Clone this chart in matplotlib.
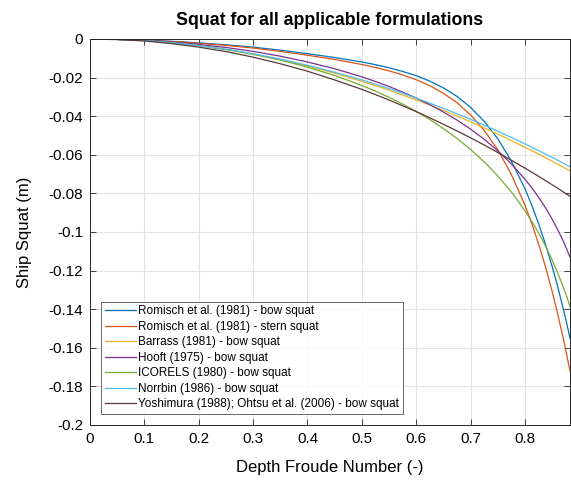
import numpy as np
import matplotlib
matplotlib.use("Agg")
import matplotlib.pyplot as plt

plt.rcParams['font.family'] = ['Liberation Sans', 'DejaVu Sans']

# Depth Froude number samples
fnh = [0, 0.05, 0.1, 0.15, 0.2, 0.25, 0.3, 0.35, 0.4, 0.45, 0.5, 0.525, 0.55, 0.575,
       0.6, 0.625, 0.65, 0.675, 0.7, 0.725, 0.75, 0.775, 0.8, 0.8125, 0.825, 0.8375,
       0.85, 0.86, 0.87, 0.8775, 0.883]

# squat magnitudes (m)
romisch_bow = [0.0000, 0.0002, 0.0006, 0.0012, 0.0020, 0.0030, 0.0042, 0.0058, 0.0076, 0.0096,
               0.0119, 0.0133, 0.0149, 0.0168, 0.0190, 0.0218, 0.0253, 0.0297, 0.0354, 0.0426,
               0.0516, 0.0632, 0.0775, 0.0860, 0.0955, 0.1060, 0.1177, 0.1279, 0.1391, 0.1480,
               0.1550]
romisch_stern = [0.0000, 0.0002, 0.0007, 0.0013, 0.0022, 0.0033, 0.0047, 0.0064, 0.0084, 0.0106,
                 0.0132, 0.0148, 0.0165, 0.0186, 0.0211, 0.0242, 0.0281, 0.0330, 0.0393, 0.0473,
                 0.0573, 0.0701, 0.0860, 0.0955, 0.1060, 0.1176, 0.1306, 0.1420, 0.1544, 0.1643,
                 0.1720]
barrass = [0.0000, 0.0002, 0.0009, 0.0020, 0.0035, 0.0055, 0.0079, 0.0107, 0.0140, 0.0177,
           0.0219, 0.0241, 0.0265, 0.0290, 0.0315, 0.0342, 0.0370, 0.0399, 0.0429, 0.0460,
           0.0493, 0.0526, 0.0561, 0.0578, 0.0596, 0.0614, 0.0633, 0.0648, 0.0663, 0.0675,
           0.0683]
hooft = [0.0000, 0.0002, 0.0007, 0.0015, 0.0028, 0.0044, 0.0064, 0.0089, 0.0119, 0.0154,
         0.0196, 0.0220, 0.0246, 0.0275, 0.0306, 0.0340, 0.0378, 0.0420, 0.0467, 0.0519,
         0.0579, 0.0647, 0.0726, 0.0770, 0.0819, 0.0873, 0.0933, 0.0986, 0.1044, 0.1092,
         0.1130]
icorels = [0.0000, 0.0002, 0.0008, 0.0019, 0.0034, 0.0054, 0.0079, 0.0109, 0.0146, 0.0189,
           0.0241, 0.0270, 0.0302, 0.0337, 0.0375, 0.0417, 0.0464, 0.0515, 0.0572, 0.0636,
           0.0709, 0.0792, 0.0889, 0.0944, 0.1004, 0.1070, 0.1144, 0.1209, 0.1280, 0.1339,
           0.1385]
norrbin = [0.0000, 0.0002, 0.0008, 0.0019, 0.0034, 0.0053, 0.0076, 0.0104, 0.0136, 0.0172,
           0.0212, 0.0234, 0.0257, 0.0281, 0.0306, 0.0332, 0.0359, 0.0387, 0.0416, 0.0446,
           0.0478, 0.0510, 0.0543, 0.0561, 0.0578, 0.0596, 0.0613, 0.0628, 0.0643, 0.0654,
           0.0662]
yoshimura = [0.0000, 0.0003, 0.0010, 0.0024, 0.0042, 0.0065, 0.0094, 0.0128, 0.0167, 0.0212,
             0.0261, 0.0288, 0.0316, 0.0346, 0.0376, 0.0408, 0.0442, 0.0476, 0.0512, 0.0549,
             0.0588, 0.0628, 0.0669, 0.0690, 0.0711, 0.0733, 0.0755, 0.0773, 0.0791, 0.0805,
             0.0815]

labels = ["Romisch et al. (1981) - bow squat",
          "Romisch et al. (1981) - stern squat",
          "Barrass (1981) - bow squat",
          "Hooft (1975) - bow squat",
          "ICORELS (1980) - bow squat",
          "Norrbin (1986) - bow squat",
          "Yoshimura (1988); Ohtsu et al. (2006) - bow squat"]
series = [romisch_bow, romisch_stern, barrass, hooft, icorels, norrbin, yoshimura]
colors = ['#0072BD', '#D95319', '#EDB120', '#7E2F8E', '#77AC30', '#4DBEEE', '#5A3A3A']

xticks = [0, 0.1, 0.2, 0.3, 0.4, 0.5, 0.6, 0.7, 0.8]
xticklabels = ['0', '0.1', '0.2', '0.3', '0.4', '0.5', '0.6', '0.7', '0.8']
yticks = [0, -0.02, -0.04, -0.06, -0.08, -0.1, -0.12, -0.14, -0.16, -0.18, -0.2]
yticklabels = ['0', '-0.02', '-0.04', '-0.06', '-0.08', '-0.1', '-0.12', '-0.14',
               '-0.16', '-0.18', '-0.2']

fig = plt.figure(figsize=(5.71, 4.8), dpi=100)
ax = fig.add_axes([90/571, 55/480, 480/571, 386/480])

x = np.array(fnh)
for s, c, lab in zip(series, colors, labels):
    ax.plot(x, -np.array(s), color=c, lw=0.9, label=lab)

ax.set_xlim(0, 0.883)
ax.set_ylim(-0.2, 0)
ax.set_xticks(xticks)
ax.set_xticklabels(xticklabels)
ax.set_yticks(yticks)
ax.set_yticklabels(yticklabels)
ax.grid(True, color='#E3E3E3', lw=0.8)
ax.set_axisbelow(True)
ax.tick_params(direction='in', length=4, width=0.6, colors='#262626', labelsize=11,
               top=True, right=True, labelcolor='black', pad=5)
for sp in ax.spines.values():
    sp.set_color('#262626')
    sp.set_linewidth(0.7)

ax.set_title("Squat for all applicable formulations", fontsize=12.8, fontweight='bold', pad=10)
ax.set_xlabel("Depth Froude Number (-)", fontsize=12, labelpad=10)
ax.set_ylabel("Ship Squat (m)", fontsize=12, labelpad=12)

leg = ax.legend(loc='lower left', bbox_to_anchor=(11/480, 11/386), fontsize=8.5,
                frameon=True, fancybox=False, handlelength=2.7, handletextpad=0.15,
                borderpad=0.3, labelspacing=0.3, borderaxespad=0)
leg.get_frame().set_edgecolor('#262626')
leg.get_frame().set_linewidth(0.6)

fig.savefig("out.png", dpi=100, facecolor='white')
